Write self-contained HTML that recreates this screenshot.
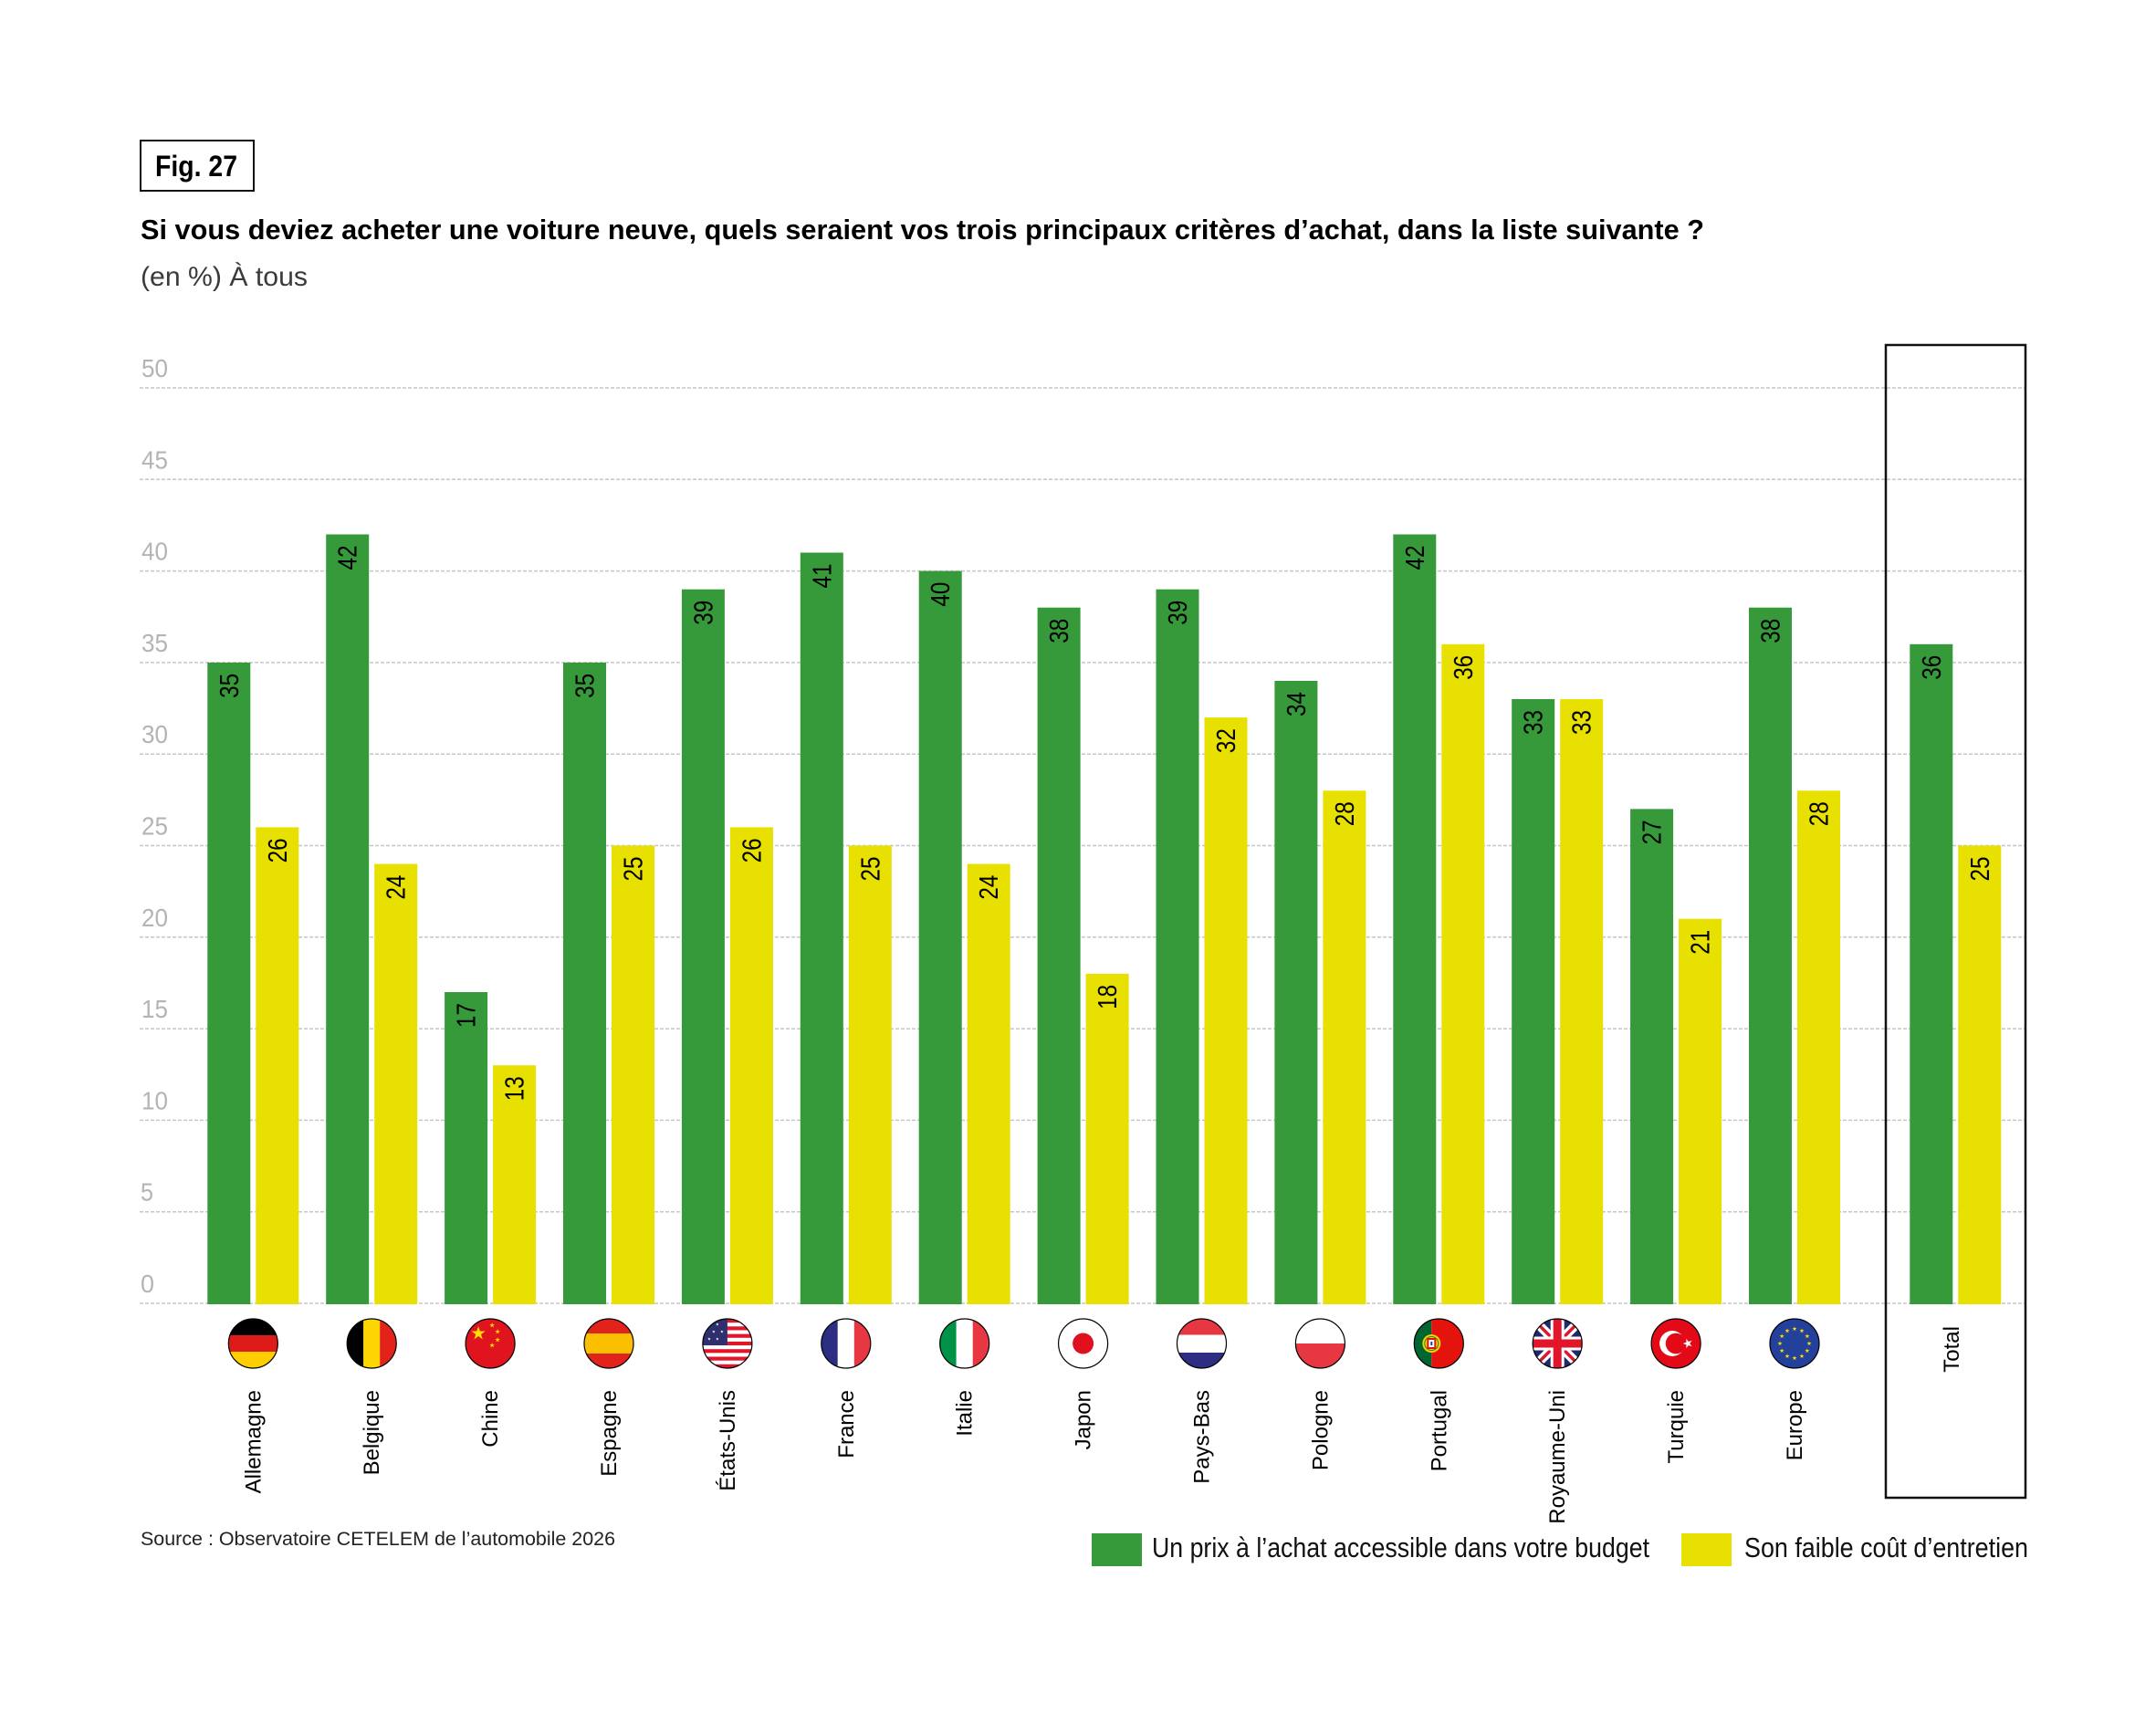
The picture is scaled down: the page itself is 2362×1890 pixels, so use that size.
<!DOCTYPE html>
<html><head><meta charset="utf-8"><style>
html,body{margin:0;padding:0;background:#fff;}
svg{display:block;}
text{font-family:"Liberation Sans",sans-serif;}
</style></head><body>
<svg width="2362" height="1890" viewBox="0 0 2362 1890" xmlns="http://www.w3.org/2000/svg">
<defs>
<polygon id="st" points="0,-1 0.2245,-0.309 0.951,-0.309 0.363,0.118 0.588,0.809 0,0.382 -0.588,0.809 -0.363,0.118 -0.951,-0.309 -0.2245,-0.309"/>
<clipPath id="fc" clipPathUnits="userSpaceOnUse"><circle cx="0" cy="0" r="27"/></clipPath>
</defs>
<rect width="2362" height="1890" fill="#fff"/>

<!-- Fig box -->
<rect x="154" y="154" width="124" height="55" fill="none" stroke="#111" stroke-width="2"/>
<text x="170" y="193" font-size="32" font-weight="bold" fill="#000" textLength="90" lengthAdjust="spacingAndGlyphs">Fig. 27</text>

<text x="154" y="262" font-size="31" font-weight="bold" fill="#000" textLength="1713" lengthAdjust="spacingAndGlyphs">Si vous deviez acheter une voiture neuve, quels seraient vos trois principaux critères d’achat, dans la liste suivante ?</text>
<text x="154" y="313" font-size="30" fill="#3a3a3a" textLength="183" lengthAdjust="spacingAndGlyphs">(en %) À tous</text>

<!-- gridlines -->
<g stroke="#c6c6c6" stroke-width="1.5" stroke-dasharray="4 2">
<line x1="153" y1="1428" x2="2219" y2="1428"/>
<line x1="153" y1="1327.7" x2="2219" y2="1327.7"/>
<line x1="153" y1="1227.4" x2="2219" y2="1227.4"/>
<line x1="153" y1="1127.1" x2="2219" y2="1127.1"/>
<line x1="153" y1="1026.8" x2="2219" y2="1026.8"/>
<line x1="153" y1="926.5" x2="2219" y2="926.5"/>
<line x1="153" y1="826.2" x2="2219" y2="826.2"/>
<line x1="153" y1="725.9" x2="2219" y2="725.9"/>
<line x1="153" y1="625.6" x2="2219" y2="625.6"/>
<line x1="153" y1="525.3" x2="2219" y2="525.3"/>
<line x1="153" y1="425" x2="2219" y2="425"/>
</g>
<g font-size="28" fill="#b4b4b4">
<text x="154" y="1416" textLength="15" lengthAdjust="spacingAndGlyphs">0</text>
<text x="154" y="1315.7" textLength="14" lengthAdjust="spacingAndGlyphs">5</text>
<text x="155" y="1215.4" textLength="29" lengthAdjust="spacingAndGlyphs">10</text>
<text x="155" y="1115.1" textLength="29" lengthAdjust="spacingAndGlyphs">15</text>
<text x="155" y="1014.8" textLength="29" lengthAdjust="spacingAndGlyphs">20</text>
<text x="155" y="914.5" textLength="29" lengthAdjust="spacingAndGlyphs">25</text>
<text x="155" y="814.2" textLength="29" lengthAdjust="spacingAndGlyphs">30</text>
<text x="155" y="713.9" textLength="29" lengthAdjust="spacingAndGlyphs">35</text>
<text x="155" y="613.6" textLength="29" lengthAdjust="spacingAndGlyphs">40</text>
<text x="155" y="513.3" textLength="29" lengthAdjust="spacingAndGlyphs">45</text>
<text x="155" y="413" textLength="29" lengthAdjust="spacingAndGlyphs">50</text>
</g>

<!-- Total box -->
<rect x="2066" y="378" width="153" height="1263" fill="none" stroke="#111" stroke-width="2.5"/>

<!-- bars -->
<g fill="#369a3a">
<rect x="227.3" y="725.9" width="47" height="703.1"/>
<rect x="357.2" y="585.5" width="47" height="843.5"/>
<rect x="487.1" y="1087" width="47" height="342"/>
<rect x="617" y="725.9" width="47" height="703.1"/>
<rect x="746.9" y="645.7" width="47" height="783.3"/>
<rect x="876.8" y="605.5" width="47" height="823.5"/>
<rect x="1006.7" y="625.6" width="47" height="803.4"/>
<rect x="1136.6" y="665.7" width="47" height="763.3"/>
<rect x="1266.5" y="645.7" width="47" height="783.3"/>
<rect x="1396.4" y="746" width="47" height="683"/>
<rect x="1526.3" y="585.5" width="47" height="843.5"/>
<rect x="1656.2" y="766" width="47" height="663"/>
<rect x="1786.1" y="886.4" width="47" height="542.6"/>
<rect x="1916" y="665.7" width="47" height="763.3"/>
<rect x="2092.3" y="705.8" width="47" height="723.2"/>
</g>
<g fill="#e7e000">
<rect x="280.3" y="906.4" width="47" height="522.6"/>
<rect x="410.2" y="946.6" width="47" height="482.4"/>
<rect x="540.1" y="1167.2" width="47" height="261.8"/>
<rect x="670" y="926.5" width="47" height="502.5"/>
<rect x="799.9" y="906.4" width="47" height="522.6"/>
<rect x="929.8" y="926.5" width="47" height="502.5"/>
<rect x="1059.7" y="946.6" width="47" height="482.4"/>
<rect x="1189.6" y="1066.9" width="47" height="362.1"/>
<rect x="1319.5" y="786.1" width="47" height="642.9"/>
<rect x="1449.4" y="866.3" width="47" height="562.7"/>
<rect x="1579.3" y="705.8" width="47" height="723.2"/>
<rect x="1709.2" y="766" width="47" height="663"/>
<rect x="1839.1" y="1006.7" width="47" height="422.3"/>
<rect x="1969" y="866.3" width="47" height="562.7"/>
<rect x="2145.3" y="926.5" width="47" height="502.5"/>
</g>

<!-- value labels -->
<g font-size="29" fill="#000" text-anchor="end">
<text transform="translate(260.8,737.9) rotate(-90)" textLength="27" lengthAdjust="spacingAndGlyphs">35</text>
<text transform="translate(313.8,918.4) rotate(-90)" textLength="27" lengthAdjust="spacingAndGlyphs">26</text>
<text transform="translate(390.7,597.5) rotate(-90)" textLength="27" lengthAdjust="spacingAndGlyphs">42</text>
<text transform="translate(443.7,958.6) rotate(-90)" textLength="27" lengthAdjust="spacingAndGlyphs">24</text>
<text transform="translate(520.6,1099) rotate(-90)" textLength="27" lengthAdjust="spacingAndGlyphs">17</text>
<text transform="translate(573.6,1179.2) rotate(-90)" textLength="27" lengthAdjust="spacingAndGlyphs">13</text>
<text transform="translate(650.5,737.9) rotate(-90)" textLength="27" lengthAdjust="spacingAndGlyphs">35</text>
<text transform="translate(703.5,938.5) rotate(-90)" textLength="27" lengthAdjust="spacingAndGlyphs">25</text>
<text transform="translate(780.4,657.7) rotate(-90)" textLength="27" lengthAdjust="spacingAndGlyphs">39</text>
<text transform="translate(833.4,918.4) rotate(-90)" textLength="27" lengthAdjust="spacingAndGlyphs">26</text>
<text transform="translate(910.3,617.5) rotate(-90)" textLength="27" lengthAdjust="spacingAndGlyphs">41</text>
<text transform="translate(963.3,938.5) rotate(-90)" textLength="27" lengthAdjust="spacingAndGlyphs">25</text>
<text transform="translate(1040.2,637.6) rotate(-90)" textLength="27" lengthAdjust="spacingAndGlyphs">40</text>
<text transform="translate(1093.2,958.6) rotate(-90)" textLength="27" lengthAdjust="spacingAndGlyphs">24</text>
<text transform="translate(1170.1,677.7) rotate(-90)" textLength="27" lengthAdjust="spacingAndGlyphs">38</text>
<text transform="translate(1223.1,1078.9) rotate(-90)" textLength="27" lengthAdjust="spacingAndGlyphs">18</text>
<text transform="translate(1300,657.7) rotate(-90)" textLength="27" lengthAdjust="spacingAndGlyphs">39</text>
<text transform="translate(1353,798.1) rotate(-90)" textLength="27" lengthAdjust="spacingAndGlyphs">32</text>
<text transform="translate(1429.9,758) rotate(-90)" textLength="27" lengthAdjust="spacingAndGlyphs">34</text>
<text transform="translate(1482.9,878.3) rotate(-90)" textLength="27" lengthAdjust="spacingAndGlyphs">28</text>
<text transform="translate(1559.8,597.5) rotate(-90)" textLength="27" lengthAdjust="spacingAndGlyphs">42</text>
<text transform="translate(1612.8,717.8) rotate(-90)" textLength="27" lengthAdjust="spacingAndGlyphs">36</text>
<text transform="translate(1689.7,778) rotate(-90)" textLength="27" lengthAdjust="spacingAndGlyphs">33</text>
<text transform="translate(1742.7,778) rotate(-90)" textLength="27" lengthAdjust="spacingAndGlyphs">33</text>
<text transform="translate(1819.6,898.4) rotate(-90)" textLength="27" lengthAdjust="spacingAndGlyphs">27</text>
<text transform="translate(1872.6,1018.7) rotate(-90)" textLength="27" lengthAdjust="spacingAndGlyphs">21</text>
<text transform="translate(1949.5,677.7) rotate(-90)" textLength="27" lengthAdjust="spacingAndGlyphs">38</text>
<text transform="translate(2002.5,878.3) rotate(-90)" textLength="27" lengthAdjust="spacingAndGlyphs">28</text>
<text transform="translate(2125.8,717.8) rotate(-90)" textLength="27" lengthAdjust="spacingAndGlyphs">36</text>
<text transform="translate(2178.8,938.5) rotate(-90)" textLength="27" lengthAdjust="spacingAndGlyphs">25</text>
</g>

<!-- flags -->
<!-- Germany -->
<g transform="translate(277.3,1472)"><g clip-path="url(#fc)">
<rect x="-27" y="-27" width="54" height="18" fill="#000"/><rect x="-27" y="-9" width="54" height="18" fill="#dd1c1a"/><rect x="-27" y="9" width="54" height="18" fill="#ffce00"/>
</g><circle r="27" fill="none" stroke="#000" stroke-width="1.2"/></g>
<!-- Belgium -->
<g transform="translate(407.2,1472)"><g clip-path="url(#fc)">
<rect x="-27" y="-27" width="18" height="54" fill="#000"/><rect x="-9" y="-27" width="18" height="54" fill="#fdd500"/><rect x="9" y="-27" width="18" height="54" fill="#e2231a"/>
</g><circle r="27" fill="none" stroke="#000" stroke-width="1.2"/></g>
<!-- China -->
<g transform="translate(537.1,1472)"><g clip-path="url(#fc)">
<rect x="-27" y="-27" width="54" height="54" fill="#e0141e"/>
<g fill="#ffde00">
<use href="#st" transform="translate(-13,-11) scale(8)"/>
<use href="#st" transform="translate(2,-20) scale(3)"/>
<use href="#st" transform="translate(8,-13) scale(3)"/>
<use href="#st" transform="translate(8,-4) scale(3)"/>
<use href="#st" transform="translate(2,2) scale(3)"/>
</g>
</g><circle r="27" fill="none" stroke="#000" stroke-width="1.2"/></g>
<!-- Spain -->
<g transform="translate(667,1472)"><g clip-path="url(#fc)">
<rect x="-27" y="-27" width="54" height="54" fill="#e0241b"/><rect x="-27" y="-11" width="54" height="22" fill="#fbbf00"/>
</g><circle r="27" fill="none" stroke="#000" stroke-width="1.2"/></g>
<!-- USA -->
<g transform="translate(796.9,1472)"><g clip-path="url(#fc)">
<rect x="-27" y="-27" width="54" height="54" fill="#fff"/>
<g fill="#e0162b">
<rect x="-27" y="-27" width="54" height="4.15"/><rect x="-27" y="-18.7" width="54" height="4.15"/><rect x="-27" y="-10.4" width="54" height="4.15"/><rect x="-27" y="-2.1" width="54" height="4.15"/><rect x="-27" y="6.2" width="54" height="4.15"/><rect x="-27" y="14.5" width="54" height="4.15"/><rect x="-27" y="22.8" width="54" height="4.2"/>
</g>
<rect x="-27" y="-27" width="27" height="29" fill="#2f2f6e"/>
<g fill="#fff">
<use href="#st" transform="translate(-20,-21) scale(1.8)"/><use href="#st" transform="translate(-11,-21) scale(1.8)"/>
<use href="#st" transform="translate(-24,-13) scale(1.8)"/><use href="#st" transform="translate(-15,-13) scale(1.8)"/><use href="#st" transform="translate(-6,-13) scale(1.8)"/>
<use href="#st" transform="translate(-20,-5) scale(1.8)"/><use href="#st" transform="translate(-11,-5) scale(1.8)"/>
</g>
</g><circle r="27" fill="none" stroke="#000" stroke-width="1.2"/></g>
<!-- France -->
<g transform="translate(926.8,1472)"><g clip-path="url(#fc)">
<rect x="-27" y="-27" width="18" height="54" fill="#2d2e83"/><rect x="-9" y="-27" width="18" height="54" fill="#fff"/><rect x="9" y="-27" width="18" height="54" fill="#e63743"/>
</g><circle r="27" fill="none" stroke="#000" stroke-width="1.2"/></g>
<!-- Italy -->
<g transform="translate(1056.7,1472)"><g clip-path="url(#fc)">
<rect x="-27" y="-27" width="18" height="54" fill="#009246"/><rect x="-9" y="-27" width="18" height="54" fill="#fff"/><rect x="9" y="-27" width="18" height="54" fill="#e63743"/>
</g><circle r="27" fill="none" stroke="#000" stroke-width="1.2"/></g>
<!-- Japan -->
<g transform="translate(1186.6,1472)">
<circle r="27" fill="#fff"/><circle r="11.5" fill="#e0101e"/>
<circle r="27" fill="none" stroke="#000" stroke-width="1.2"/></g>
<!-- Netherlands -->
<g transform="translate(1316.5,1472)"><g clip-path="url(#fc)">
<rect x="-27" y="-27" width="54" height="17.5" fill="#e63743"/><rect x="-27" y="-9.5" width="54" height="19.5" fill="#fff"/><rect x="-27" y="10" width="54" height="17" fill="#2d2e83"/>
</g><circle r="27" fill="none" stroke="#000" stroke-width="1.2"/></g>
<!-- Poland -->
<g transform="translate(1446.4,1472)"><g clip-path="url(#fc)">
<rect x="-27" y="-27" width="54" height="27" fill="#fff"/><rect x="-27" y="0" width="54" height="27" fill="#e63743"/>
</g><circle r="27" fill="none" stroke="#000" stroke-width="1.2"/></g>
<!-- Portugal -->
<g transform="translate(1576.3,1472)"><g clip-path="url(#fc)">
<rect x="-27" y="-27" width="19" height="54" fill="#00652f"/><rect x="-8" y="-27" width="35" height="54" fill="#e3140e"/>
<circle cx="-8" cy="0" r="10" fill="#f2d200"/>
<circle cx="-8" cy="0" r="7.5" fill="none" stroke="#2a7a2a" stroke-width="1"/>
<rect x="-13" y="-6" width="10" height="12" fill="#e3140e"/>
<rect x="-11" y="-4" width="6" height="8" fill="#fff"/>
<rect x="-9" y="-2" width="2" height="4" fill="#1a3c9a"/>
</g><circle r="27" fill="none" stroke="#000" stroke-width="1.2"/></g>
<!-- UK -->
<g transform="translate(1706.2,1472)"><g clip-path="url(#fc)">
<rect x="-27" y="-27" width="54" height="54" fill="#1f2a6b"/>
<line x1="-27" y1="-27" x2="27" y2="27" stroke="#fff" stroke-width="10"/>
<line x1="-27" y1="27" x2="27" y2="-27" stroke="#fff" stroke-width="10"/>
<line x1="-27" y1="-27" x2="27" y2="27" stroke="#e0162b" stroke-width="3.5"/>
<line x1="-27" y1="27" x2="27" y2="-27" stroke="#e0162b" stroke-width="3.5"/>
<rect x="-27" y="-7.5" width="54" height="15" fill="#fff"/><rect x="-7.5" y="-27" width="15" height="54" fill="#fff"/>
<rect x="-27" y="-4.5" width="54" height="9" fill="#e0162b"/><rect x="-4.5" y="-27" width="9" height="54" fill="#e0162b"/>
</g><circle r="27" fill="none" stroke="#000" stroke-width="1.2"/></g>
<!-- Turkey -->
<g transform="translate(1836.1,1472)"><g clip-path="url(#fc)">
<rect x="-27" y="-27" width="54" height="54" fill="#e30a17"/>
<circle cx="-4" cy="0" r="14" fill="#fff"/><circle cx="0" cy="0" r="11.3" fill="#e30a17"/>
<use href="#st" transform="translate(13,0) rotate(-90) scale(5.5)" fill="#fff"/>
</g><circle r="27" fill="none" stroke="#000" stroke-width="1.2"/></g>
<!-- EU -->
<g transform="translate(1966,1472)"><g clip-path="url(#fc)">
<rect x="-27" y="-27" width="54" height="54" fill="#23409a"/>
<g fill="#ffdd00">
<use href="#st" transform="translate(0,-16) scale(2.7)"/><use href="#st" transform="translate(8,-13.86) scale(2.7)"/><use href="#st" transform="translate(13.86,-8) scale(2.7)"/><use href="#st" transform="translate(16,0) scale(2.7)"/><use href="#st" transform="translate(13.86,8) scale(2.7)"/><use href="#st" transform="translate(8,13.86) scale(2.7)"/><use href="#st" transform="translate(0,16) scale(2.7)"/><use href="#st" transform="translate(-8,13.86) scale(2.7)"/><use href="#st" transform="translate(-13.86,8) scale(2.7)"/><use href="#st" transform="translate(-16,0) scale(2.7)"/><use href="#st" transform="translate(-13.86,-8) scale(2.7)"/><use href="#st" transform="translate(-8,-13.86) scale(2.7)"/>
</g>
</g><circle r="27" fill="none" stroke="#000" stroke-width="1.2"/></g>

<!-- country labels -->
<g font-size="24" fill="#000" text-anchor="end">
<text transform="translate(285.3,1523) rotate(-90)">Allemagne</text>
<text transform="translate(415.2,1523) rotate(-90)">Belgique</text>
<text transform="translate(545.1,1523) rotate(-90)">Chine</text>
<text transform="translate(675,1523) rotate(-90)">Espagne</text>
<text transform="translate(804.9,1523) rotate(-90)">États-Unis</text>
<text transform="translate(934.8,1523) rotate(-90)">France</text>
<text transform="translate(1064.7,1523) rotate(-90)">Italie</text>
<text transform="translate(1194.6,1523) rotate(-90)">Japon</text>
<text transform="translate(1324.5,1523) rotate(-90)">Pays-Bas</text>
<text transform="translate(1454.4,1523) rotate(-90)">Pologne</text>
<text transform="translate(1584.3,1523) rotate(-90)">Portugal</text>
<text transform="translate(1714.2,1523) rotate(-90)">Royaume-Uni</text>
<text transform="translate(1844.1,1523) rotate(-90)">Turquie</text>
<text transform="translate(1974,1523) rotate(-90)">Europe</text>
<text transform="translate(2146,1453) rotate(-90)">Total</text>
</g>

<!-- source -->
<text x="154" y="1693" font-size="21" fill="#222" textLength="520" lengthAdjust="spacingAndGlyphs">Source : Observatoire CETELEM de l’automobile 2026</text>

<!-- legend -->
<rect x="1196" y="1680" width="55" height="36" fill="#369a3a"/>
<text x="1262" y="1706" font-size="31" fill="#111" textLength="545" lengthAdjust="spacingAndGlyphs">Un prix à l’achat accessible dans votre budget</text>
<rect x="1842" y="1680" width="55" height="36" fill="#e7e000"/>
<text x="1911" y="1706" font-size="31" fill="#111" textLength="311" lengthAdjust="spacingAndGlyphs">Son faible coût d’entretien</text>
</svg>
</body></html>
